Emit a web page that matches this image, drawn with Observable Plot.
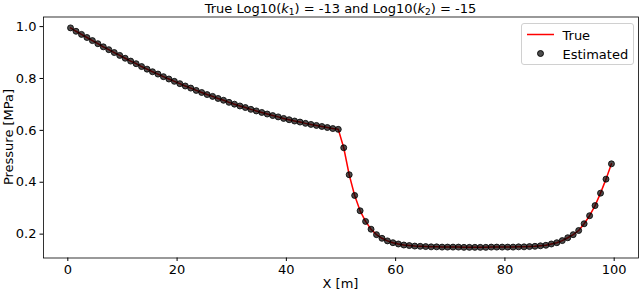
<!DOCTYPE html>
<html>
<head>
<meta charset="utf-8">
<script src="https://cdn.jsdelivr.net/npm/d3@7"></script>
<script src="https://cdn.jsdelivr.net/npm/@observablehq/plot@0.6"></script>
<style>
  html, body { margin: 0; padding: 0; background: #fff; }
  #wrap { position: relative; width: 640px; height: 293px; font-family: "DejaVu Sans", sans-serif; color: #000; }
  .ov { position: absolute; font-size: 13px; white-space: nowrap; line-height: 1; }
  #title { left: 340.5px; top: 1.5px; transform: translateX(-50%); }
  #xlabel { left: 340.5px; top: 277px; transform: translateX(-50%); }
  #ylabel { left: 8px; top: 137px; transform: translate(-50%, -50%) rotate(-90deg); }
  #legend { position: absolute; left: 521px; top: 23px; width: 111px; height: 40px; border: 1px solid #d0d0d0; border-radius: 3px; background: rgba(255,255,255,0.8); }
  sub { font-size: 9px; vertical-align: -2px; }
</style>
</head>
<body>
<div id="wrap">
  <div id="chart"></div>
  <div class="ov" id="title">True Log10(<i>k</i><sub>1</sub>) = -13 and Log10(<i>k</i><sub>2</sub>) = -15</div>
  <div class="ov" id="xlabel">X [m]</div>
  <div class="ov" id="ylabel">Pressure [MPa]</div>
  <div id="legend">
    <svg width="111" height="40" style="position:absolute;left:0;top:0">
      <line x1="5" x2="32" y1="10.5" y2="10.5" stroke="red" stroke-width="1.5"></line>
      <circle cx="18.5" cy="29.5" r="3" fill="rgba(0,0,0,0.7)" stroke="#000" stroke-width="0.9"></circle>
      <text x="40.5" y="15.5" font-size="13" font-family="DejaVu Sans">True</text>
      <text x="40.5" y="34.5" font-size="13" font-family="DejaVu Sans">Estimated</text>
    </svg>
  </div>
</div>
<script>
const positions = [
  0.5, 1.5, 2.5, 3.5, 4.5, 5.5, 6.5, 7.5, 8.5, 9.5,
  10.5, 11.5, 12.5, 13.5, 14.5, 15.5, 16.5, 17.5, 18.5, 19.5,
  20.5, 21.5, 22.5, 23.5, 24.5, 25.5, 26.5, 27.5, 28.5, 29.5,
  30.5, 31.5, 32.5, 33.5, 34.5, 35.5, 36.5, 37.5, 38.5, 39.5,
  40.5, 41.5, 42.5, 43.5, 44.5, 45.5, 46.5, 47.5, 48.5, 49.5,
  50.5, 51.5, 52.5, 53.5, 54.5, 55.5, 56.5, 57.5, 58.5, 59.5,
  60.5, 61.5, 62.5, 63.5, 64.5, 65.5, 66.5, 67.5, 68.5, 69.5,
  70.5, 71.5, 72.5, 73.5, 74.5, 75.5, 76.5, 77.5, 78.5, 79.5,
  80.5, 81.5, 82.5, 83.5, 84.5, 85.5, 86.5, 87.5, 88.5, 89.5,
  90.5, 91.5, 92.5, 93.5, 94.5, 95.5, 96.5, 97.5, 98.5, 99.5
];
const pressureTrue = [
  0.995, 0.982, 0.970, 0.958, 0.946, 0.934, 0.922, 0.911, 0.900, 0.889,
  0.878, 0.867, 0.857, 0.846, 0.836, 0.826, 0.817, 0.807, 0.798, 0.789,
  0.780, 0.771, 0.763, 0.754, 0.746, 0.738, 0.731, 0.723, 0.716, 0.708,
  0.701, 0.694, 0.688, 0.681, 0.675, 0.669, 0.663, 0.657, 0.652, 0.646,
  0.641, 0.636, 0.632, 0.627, 0.623, 0.619, 0.615, 0.611, 0.607, 0.604,
  0.533, 0.429, 0.349, 0.290, 0.249, 0.219, 0.198, 0.184, 0.174, 0.167,
  0.162, 0.158, 0.156, 0.154, 0.153, 0.152, 0.151, 0.151, 0.150, 0.150,
  0.150, 0.150, 0.149, 0.149, 0.149, 0.149, 0.149, 0.150, 0.150, 0.150,
  0.150, 0.150, 0.151, 0.151, 0.152, 0.153, 0.155, 0.157, 0.162, 0.167,
  0.175, 0.186, 0.198, 0.214, 0.240, 0.271, 0.310, 0.358, 0.412, 0.471
];
const pressureEstimated = [
  0.995, 0.982, 0.970, 0.958, 0.946, 0.934, 0.922, 0.911, 0.900, 0.889,
  0.878, 0.867, 0.857, 0.846, 0.836, 0.826, 0.817, 0.807, 0.798, 0.789,
  0.780, 0.771, 0.763, 0.754, 0.746, 0.738, 0.731, 0.723, 0.716, 0.708,
  0.701, 0.694, 0.688, 0.681, 0.675, 0.669, 0.663, 0.657, 0.652, 0.646,
  0.641, 0.636, 0.632, 0.627, 0.623, 0.619, 0.615, 0.611, 0.607, 0.604,
  0.533, 0.429, 0.349, 0.290, 0.249, 0.219, 0.198, 0.184, 0.174, 0.167,
  0.162, 0.158, 0.156, 0.154, 0.153, 0.152, 0.151, 0.151, 0.150, 0.150,
  0.150, 0.150, 0.149, 0.149, 0.149, 0.149, 0.149, 0.150, 0.150, 0.150,
  0.150, 0.150, 0.151, 0.151, 0.152, 0.153, 0.155, 0.157, 0.162, 0.167,
  0.175, 0.186, 0.198, 0.214, 0.240, 0.271, 0.310, 0.358, 0.412, 0.471
];
const xTicks = [0, 20, 40, 60, 80, 100];
const yTicks = [0.2, 0.4, 0.6, 0.8, 1.0];

const trueData = positions.map((x, i) => ({x, p: pressureTrue[i]}));
const estData = positions.map((x, i) => ({x, p: pressureEstimated[i]}));

const chart = Plot.plot({
  width: 640,
  height: 293,
  marginLeft: 43,
  marginRight: 2,
  marginTop: 16.5,
  marginBottom: 35.5,
  style: {fontFamily: "DejaVu Sans", fontSize: "13px", color: "#000", background: "transparent"},
  x: {domain: [-4.45, 104.45], ticks: xTicks, tickSize: 3.5, tickPadding: 3.5, label: null, tickFormat: d3.format("d")},
  y: {domain: [0.108, 1.037], ticks: yTicks, tickSize: 3.5, tickPadding: 3.5, label: null, tickFormat: d3.format(".1f")},
  marks: [
    Plot.frame({stroke: "#000", strokeWidth: 0.8}),
    Plot.line(trueData, {x: "x", y: "p", stroke: "red", strokeWidth: 1.5}),
    Plot.dot(estData, {x: "x", y: "p", r: 3, fill: "#000", fillOpacity: 0.7, stroke: "#000", strokeWidth: 0.9, strokeOpacity: 0.9})
  ]
});
document.getElementById("chart").appendChild(chart);
</script>
</body>
</html>
